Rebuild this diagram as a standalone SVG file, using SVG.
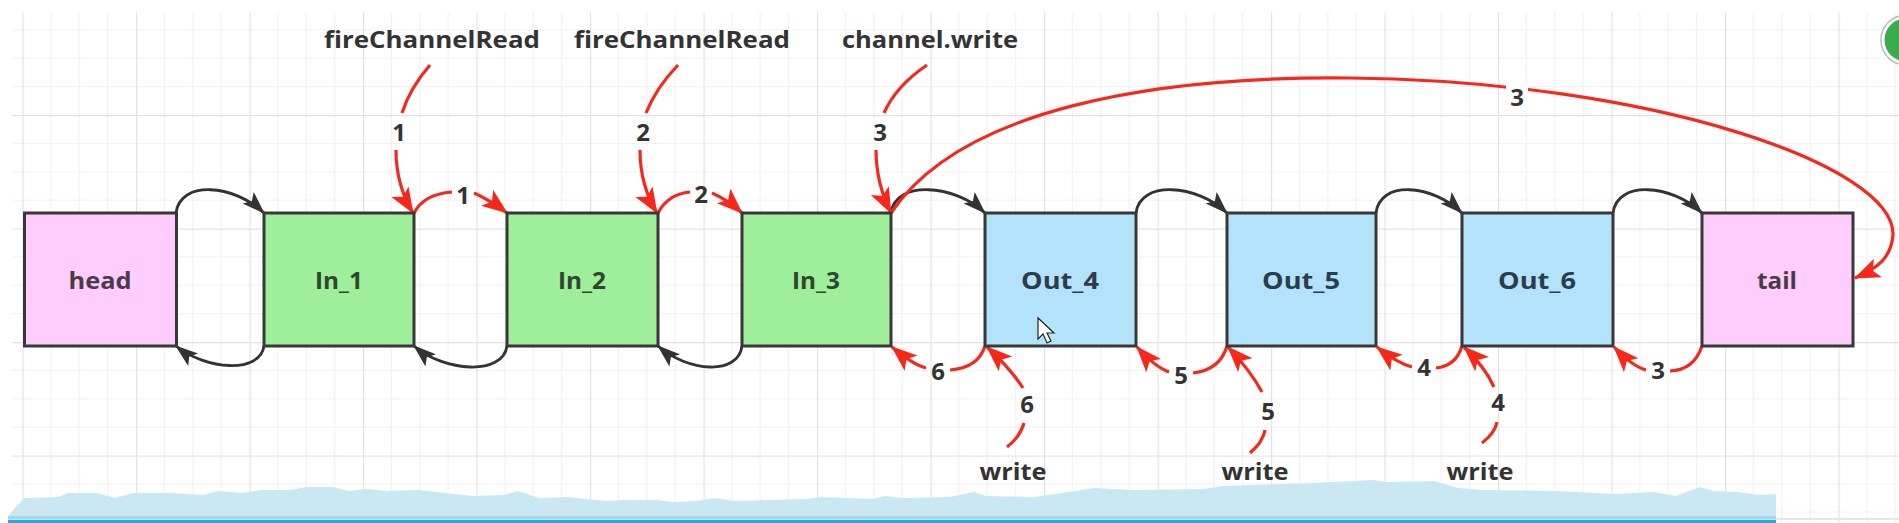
<svg xmlns="http://www.w3.org/2000/svg" width="1899" height="523" viewBox="0 0 1899 523">
<style>
.node rect{stroke:#383838;stroke-width:3}
.nl{font-family:"Open Sans","Liberation Sans",sans-serif;font-weight:700;font-size:24px;text-anchor:middle}
.lbl{font-family:"Open Sans","Liberation Sans",sans-serif;font-weight:700;font-size:24px;text-anchor:middle;fill:#333}
.bk{fill:none;stroke:#333;stroke-width:2.8}
.rd{fill:none;stroke:#f7281a;stroke-width:3.2}
</style>
<defs>
<pattern id="grid" patternUnits="userSpaceOnUse" x="22.5" y="1.5" width="113.5" height="113.5">
<path d="M28.375 0V113.5M56.75 0V113.5M85.125 0V113.5M0 28.375H113.5M0 56.75H113.5M0 85.125H113.5" stroke="#f1f1f1" stroke-width="1.2" fill="none"/>
<path d="M0.5 0V113.5M0 0.5H113.5" stroke="#e2e2e2" stroke-width="1.4" fill="none"/>
</pattern>
<marker id="ar" markerUnits="userSpaceOnUse" markerWidth="28" markerHeight="22" refX="25" refY="10" orient="auto">
<path d="M0,0 L26,10 L0,20 L6,10 Z" fill="#f7281a"/>
</marker>
<marker id="ab" markerUnits="userSpaceOnUse" markerWidth="26" markerHeight="18" refX="22" refY="8" orient="auto">
<path d="M0,0 L23,8 L0,16 L5,8 Z" fill="#333"/>
</marker>
</defs>
<rect x="0" y="0" width="1899" height="523" fill="#ffffff"/>
<rect x="12" y="12" width="1887" height="511" fill="url(#grid)"/>

<g id="connectors">
<!-- black top arcs -->
<path class="bk" marker-end="url(#ab)" d="M176,213 C180,180 234,184 264,213"/>
<path class="bk" marker-end="url(#ab)" d="M891,213 C895,180 955,184 985,213"/>
<path class="bk" marker-end="url(#ab)" d="M1136,213 C1140,180 1197,184 1227,213"/>
<path class="bk" marker-end="url(#ab)" d="M1376,213 C1380,180 1432,184 1462,213"/>
<path class="bk" marker-end="url(#ab)" d="M1613,213 C1617,180 1672,184 1702,213"/>
<!-- black bottom arcs -->
<path class="bk" marker-end="url(#ab)" d="M264,346 C260,374 206,370 176,346"/>
<path class="bk" marker-end="url(#ab)" d="M507,346 C503,376 444,372 414,346"/>
<path class="bk" marker-end="url(#ab)" d="M742,346 C738,376 688,372 658,346"/>
<!-- red top incoming -->
<path class="rd" d="M430,65 Q410,88 402,113"/>
<path class="rd" marker-end="url(#ar)" d="M396,150 C396,175 402,195 413,213"/>
<path class="rd" d="M678,65 Q656,88 646,113"/>
<path class="rd" marker-end="url(#ar)" d="M640,150 C640,175 646,195 657,213"/>
<path class="rd" d="M927,65 Q896,86 884,113"/>
<path class="rd" marker-end="url(#ar)" d="M876,150 C876,175 882,195 891,213"/>
<!-- red small top arcs -->
<path class="rd" d="M414,213 Q424,194 452,192"/>
<path class="rd" marker-end="url(#ar)" d="M474,193 Q490,200 507,213"/>
<path class="rd" d="M658,213 Q668,194 690,192"/>
<path class="rd" marker-end="url(#ar)" d="M712,193 Q728,200 742,213"/>
<!-- big arc -->
<path class="rd" marker-end="url(#ar)" d="M891,213 C960,110 1150,76 1350,78 C1650,81 1895,165 1893,235 C1891,258 1878,268 1855,278"/>
<rect x="1506" y="84" width="22" height="28" fill="#ffffff"/>
<!-- red bottom arcs -->
<path class="rd" d="M985,346 Q978,368 950,370"/>
<path class="rd" marker-end="url(#ar)" d="M926,368 Q912,364 892,347"/>
<path class="rd" d="M1227,346 Q1220,370 1193,373"/>
<path class="rd" marker-end="url(#ar)" d="M1169,372 Q1155,367 1137,347"/>
<path class="rd" d="M1462,346 Q1456,366 1436,368"/>
<path class="rd" marker-end="url(#ar)" d="M1412,367 Q1397,363 1377,347"/>
<path class="rd" d="M1702,346 Q1694,370 1670,371"/>
<path class="rd" marker-end="url(#ar)" d="M1646,370 Q1632,366 1614,347"/>
<!-- write arrows -->
<path class="rd" marker-end="url(#ar)" d="M1023,388 Q1010,368 987,347"/>
<path class="rd" d="M1007,447 Q1020,437 1024,423"/>
<path class="rd" marker-end="url(#ar)" d="M1262,392 Q1250,370 1228,347"/>
<path class="rd" d="M1250,453 Q1263,442 1265,430"/>
<path class="rd" marker-end="url(#ar)" d="M1494,387 Q1485,367 1464,347"/>
<path class="rd" d="M1482,443 Q1495,433 1497,422"/>
<!-- connector labels -->
<text class="lbl" x="399" y="141">1</text>
<text class="lbl" x="643" y="141">2</text>
<text class="lbl" x="880" y="141">3</text>
<text class="lbl" x="463" y="204">1</text>
<text class="lbl" x="701" y="203">2</text>
<text class="lbl" x="1517" y="106">3</text>
<text class="lbl" x="938" y="380">6</text>
<text class="lbl" x="1181" y="384">5</text>
<text class="lbl" x="1424" y="376">4</text>
<text class="lbl" x="1658" y="379">3</text>
<text class="lbl" x="1027" y="413">6</text>
<text class="lbl" x="1268" y="420">5</text>
<text class="lbl" x="1498" y="411">4</text>
</g>

<g id="label-fire1"><text class="lbl" x="432" y="48" textLength="216" lengthAdjust="spacingAndGlyphs">fireChannelRead</text></g>
<g id="label-fire2"><text class="lbl" x="682" y="48" textLength="216" lengthAdjust="spacingAndGlyphs">fireChannelRead</text></g>
<g id="label-chwrite"><text class="lbl" x="930" y="48" textLength="176" lengthAdjust="spacingAndGlyphs">channel.write</text></g>
<g id="label-write1"><text class="lbl" x="1013" y="480" textLength="67" lengthAdjust="spacingAndGlyphs">write</text></g>
<g id="label-write2"><text class="lbl" x="1255" y="480" textLength="67" lengthAdjust="spacingAndGlyphs">write</text></g>
<g id="label-write3"><text class="lbl" x="1480" y="480" textLength="67" lengthAdjust="spacingAndGlyphs">write</text></g>

<g id="head" class="node"><rect x="24.5" y="213" width="152" height="133" fill="#fecdfb"/><text class="nl" x="100" y="289" fill="#4a3a4a" textLength="63" lengthAdjust="spacingAndGlyphs">head</text></g>
<g id="in1" class="node"><rect x="264" y="213" width="150" height="133" fill="#9fee9b"/><text class="nl" x="339" y="289" fill="#2f452f" textLength="48" lengthAdjust="spacingAndGlyphs">In_1</text></g>
<g id="in2" class="node"><rect x="507" y="213" width="151" height="133" fill="#9fee9b"/><text class="nl" x="582" y="289" fill="#2f452f" textLength="48" lengthAdjust="spacingAndGlyphs">In_2</text></g>
<g id="in3" class="node"><rect x="742" y="213" width="149" height="133" fill="#9fee9b"/><text class="nl" x="816" y="289" fill="#2f452f" textLength="48" lengthAdjust="spacingAndGlyphs">In_3</text></g>
<g id="out4" class="node"><rect x="985" y="213" width="151" height="133" fill="#b3e2fb"/><text class="nl" x="1060" y="289" fill="#2c3c4c" textLength="78" lengthAdjust="spacingAndGlyphs">Out_4</text></g>
<g id="out5" class="node"><rect x="1227" y="213" width="149" height="133" fill="#b3e2fb"/><text class="nl" x="1301" y="289" fill="#2c3c4c" textLength="78" lengthAdjust="spacingAndGlyphs">Out_5</text></g>
<g id="out6" class="node"><rect x="1462" y="213" width="151" height="133" fill="#b3e2fb"/><text class="nl" x="1537" y="289" fill="#2c3c4c" textLength="78" lengthAdjust="spacingAndGlyphs">Out_6</text></g>
<g id="tail" class="node"><rect x="1702" y="213" width="151" height="133" fill="#fecdfb"/><text class="nl" x="1777" y="289" fill="#4a3a4a" textLength="40" lengthAdjust="spacingAndGlyphs">tail</text></g>

<!-- mouse cursor -->
<path d="M1038,318 L1038,339 L1043,334 L1047,343 L1051,341 L1047,333 L1054,333 Z" fill="#ffffff" stroke="#222" stroke-width="1.2"/>

<!-- bottom band -->
<path d="M8,516 L24,498 L58,497 L67,493 L97,493 L115,498 L133,493 L170,493 L203,495 L218,491 L242,493 L261,490 L291,490 L306,487 L333,487 L348,491 L367,489 L388,491 L418,490 L436,492 L473,496 L503,495 L518,491 L539,498 L567,497 L606,501 L624,500 L655,500 L673,502 L697,501 L715,498 L733,501 L806,499 L821,497 L873,499 L885,496 L903,498 L950,497 L974,492 L986,496 L1035,497 L1095,488 L1132,490 L1204,489 L1222,486 L1313,483 L1374,480 L1386,482 L1434,481 L1458,488 L1483,490 L1555,491 L1616,494 L1652,492 L1676,496 L1700,487 L1713,491 L1737,492 L1761,495 L1776,494 L1776,523 L8,523 Z" fill="#c9e8f4"/>
<rect x="8" y="516" width="1768" height="3" fill="#a9d5ec"/>
<rect x="8" y="520" width="1768" height="3" fill="#2ea6e0"/>
<rect x="1776" y="518" width="123" height="2" fill="#dbe9f2"/>

<!-- top-right badge -->
<circle cx="1906" cy="40" r="23" fill="#3aac4c" stroke="#ffffff" stroke-width="3"/>
<circle cx="1906" cy="40" r="25" fill="none" stroke="#bbbbbb" stroke-width="1.5"/>
</svg>
